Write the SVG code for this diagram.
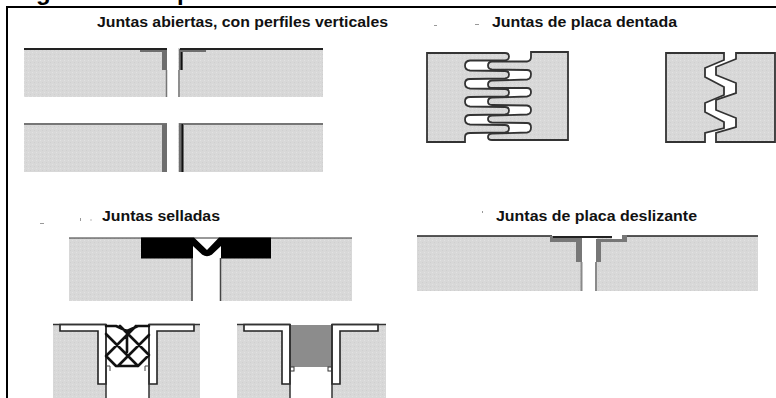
<svg xmlns="http://www.w3.org/2000/svg" width="776" height="398" viewBox="0 0 776 398">
<style>
.t{font-family:"Liberation Sans",Arial,sans-serif;font-weight:700;font-size:14px;fill:#111}
.h{font-family:"Liberation Sans",Arial,sans-serif;font-weight:700;font-size:24px;fill:#000}
.p{fill:url(#tex)}
.o{stroke:#333;stroke-width:1.8;fill:none}
.d{stroke:#222;stroke-width:1.5;fill:none}
.k{stroke:#222;stroke-width:1.6;fill:#fff}
.g{fill:#6e6e6e}
.s{stroke:#777;stroke-width:1.5;fill:none}
.x{stroke:#111;stroke-width:2.6;fill:none;stroke-linecap:round;stroke-linejoin:round}
</style>
<defs>
<pattern id="tex" width="4" height="4" patternUnits="userSpaceOnUse">
<rect width="4" height="4" fill="#d8d8d8"/>
<rect x="0" y="0" width="1" height="1" fill="#e2e2e2"/>
<rect x="2" y="2" width="1" height="1" fill="#cfcfcf"/>
</pattern>
</defs>
<rect width="776" height="398" fill="#fff"/>
<g id="heading">
<text class="h" x="36" y="0">g</text>
<text class="h" x="177" y="0">p</text>
</g>
<g id="frame">
<path d="M7 398V7H776" fill="none" stroke="#000" stroke-width="2"/>
</g>
<g id="juntas-abiertas">
<text class="t" x="97" y="26.500" textLength="291" lengthAdjust="spacingAndGlyphs">Juntas abiertas, con perfiles verticales</text>
<rect class="p" x="24" y="48" width="143" height="49"/>
<rect class="p" x="178" y="48" width="145" height="49"/>
<rect class="p" x="24" y="123" width="143" height="49"/>
<rect class="p" x="178" y="123" width="145" height="49"/>
<path class="g" d="M140 49H167V70H162V52H140Z"/>
<path class="g" d="M179 49H206V52H183V70H179Z"/>
<path d="M181.500 52V70" stroke="#111" stroke-width="1.500"/>
<path d="M24 49H167M180 49H323" stroke="#222" stroke-width="2"/>
<path class="s" d="M166.500 70V97"/>
<path class="s" d="M179 70V97"/>
<path d="M24 124H167M179 124H323" stroke="#555" stroke-width="1.500"/>
<rect class="g" x="162" y="124" width="5" height="48"/>
<rect class="g" x="179" y="124" width="5" height="48"/>
<rect x="181.500" y="124" width="1.500" height="48" fill="#111"/>
</g>
<g id="juntas-dentada">
<text class="t" x="492" y="26.500" textLength="185" lengthAdjust="spacingAndGlyphs">Juntas de placa dentada</text>
<path class="p" d="M427 53H505Q509 53 509 56.500Q509 60 505 60.500L470 60.500Q465 61 465 65.500Q465 70 470 70.500L505 71Q509 71 509 74.500Q509 78 505 78.500L470 79Q465 79 465 83.500Q465 88 470 88.500L505 89Q509 89 509 92.500Q509 96 505 96.500L470 97Q465 97 465 101.500Q465 106 470 106.500L505 107Q509 107 509 110.500Q509 114 505 114.500L470 115Q465 115 465 119.500Q465 124 470 124.500L505 125Q509 125 509 128.500Q509 132 505 132.500L470 133Q465 133 465 137V142H427Z"/>
<path class="o" d="M427 53H505Q509 53 509 56.500Q509 60 505 60.500L470 60.500Q465 61 465 65.500Q465 70 470 70.500L505 71Q509 71 509 74.500Q509 78 505 78.500L470 79Q465 79 465 83.500Q465 88 470 88.500L505 89Q509 89 509 92.500Q509 96 505 96.500L470 97Q465 97 465 101.500Q465 106 470 106.500L505 107Q509 107 509 110.500Q509 114 505 114.500L470 115Q465 115 465 119.500Q465 124 470 124.500L505 125Q509 125 509 128.500Q509 132 505 132.500L470 133Q465 133 465 137V142H427Z"/>
<path class="p" d="M568 52H531V57Q531 61 527 61.500L492 61.500Q488 62 488 65.500Q488 69 492 69.500L527 70Q531 70 531 74Q531 79 527 79.500L492 80.500Q488 81 488 84.500Q488 88 492 88L527 88Q531 88 531 92Q531 96 527 96.500L492 97.500Q488 98 488 101.500Q488 105 492 105L527 105.500Q531 106 531 110Q531 114 527 114.500L492 115.500Q488 116 488 119Q488 122 492 122.500L527 123Q531 123 531 127.500Q531 132 527 132.500L492 133.500Q488 134 488 137Q488 140 492 140H568Z"/>
<path class="o" d="M568 52H531V57Q531 61 527 61.500L492 61.500Q488 62 488 65.500Q488 69 492 69.500L527 70Q531 70 531 74Q531 79 527 79.500L492 80.500Q488 81 488 84.500Q488 88 492 88L527 88Q531 88 531 92Q531 96 527 96.500L492 97.500Q488 98 488 101.500Q488 105 492 105L527 105.500Q531 106 531 110Q531 114 527 114.500L492 115.500Q488 116 488 119Q488 122 492 122.500L527 123Q531 123 531 127.500Q531 132 527 132.500L492 133.500Q488 134 488 137Q488 140 492 140H568Z"/>
<path class="p" d="M666 53H724V60L705 68V77L724 87V95L705 103V112L724 122V128L705 133V142H666Z"/>
<path class="o" d="M666 53H724V60L705 68V77L724 87V95L705 103V112L724 122V128L705 133V142H666Z"/>
<path class="p" d="M775 53H736V59L716 67V75L736 83V93L716 100V110L736 118V127L716 133V142H775Z"/>
<path class="o" d="M775 53H736V59L716 67V75L736 83V93L716 100V110L736 118V127L716 133V142H775Z"/>
</g>
<g id="juntas-selladas">
<text class="t" x="102" y="221" textLength="118" lengthAdjust="spacingAndGlyphs">Juntas selladas</text>
<rect class="p" x="69" y="238" width="123" height="63"/>
<rect class="p" x="221" y="238" width="131" height="63"/>
<path d="M69 238H352" stroke="#333" stroke-width="1"/>
<path d="M141 237.500H194L207 250L219 237.500H271V258.500H221V246L212 254.500Q207 258 202 254.500L193 246V258.500H141Z" fill="#000"/>
<path d="M192 258V301M220.500 258V301" stroke="#444" stroke-width="1.500"/>
<rect class="p" x="53" y="324" width="53" height="74"/>
<rect class="p" x="149" y="324" width="51" height="74"/>
<path class="k" d="M60 324.500V331H98V384H106V324.500Z"/>
<path class="k" d="M194 324.500V331H157V384H149V324.500Z"/>
<path d="M53 324.500H106M149 324.500H200M106 324V398M149 324V398" stroke="#333" stroke-width="1.500" fill="none"/>
<path class="x" d="M106 334L127 355L138 366M106 356L116 366M106 356L127 335L136 326M118 366L149 335M120 326L149 355L138 366M106 326H116L127 331L138 326H149M116 366H138M127 331V352"/>
<path d="M105.500 366H110V371M149.500 366H145V371" fill="none" stroke="#444" stroke-width="1"/>
<rect class="p" x="237" y="324" width="53" height="74"/>
<rect class="p" x="332" y="324" width="54" height="74"/>
<rect x="290" y="325" width="42" height="42" fill="#8c8c8c"/>
<path class="k" d="M244 324.500V331H282V384H290V324.500Z"/>
<path class="k" d="M378 324.500V331H340V384H332V324.500Z"/>
<path d="M237 324.500H290M332 324.500H386M290 324V398M332 324V398" stroke="#333" stroke-width="1.500" fill="none"/>
<rect x="290.500" y="367" width="3.500" height="4" fill="#fff" stroke="#333" stroke-width="1"/>
<rect x="328" y="367" width="3.500" height="4" fill="#fff" stroke="#333" stroke-width="1"/>
</g>
<g id="juntas-deslizante">
<text class="t" x="496" y="221" textLength="201" lengthAdjust="spacingAndGlyphs">Juntas de placa deslizante</text>
<rect class="p" x="417" y="236" width="164" height="55"/>
<rect class="p" x="597" y="236" width="161" height="55"/>
<path d="M417 236H552M627 236H758" stroke="#222" stroke-width="1.500"/>
<path d="M550 236H582V262H576V242H550Z" fill="#777"/>
<path d="M596 239H622V235H627V242H601V262H596Z" fill="#777"/>
<rect x="612" y="235" width="10" height="4" fill="#fff"/>
<path d="M553 237H612" stroke="#222" stroke-width="2"/>
<rect x="582" y="239" width="14" height="52" fill="#fff"/>
<path d="M581.500 262V291M596 262V291" stroke="#8a8a8a" stroke-width="2"/>
</g>
<g id="specks" fill="#999">
<rect x="434" y="25" width="3" height="1"/>
<rect x="475" y="24" width="4" height="1"/>
<rect x="40" y="223" width="4" height="1"/>
<rect x="80" y="218" width="1" height="3"/>
<rect x="90" y="219" width="2" height="2" fill="#ddd"/>
<rect x="482" y="211" width="1" height="2"/>
</g>
</svg>
